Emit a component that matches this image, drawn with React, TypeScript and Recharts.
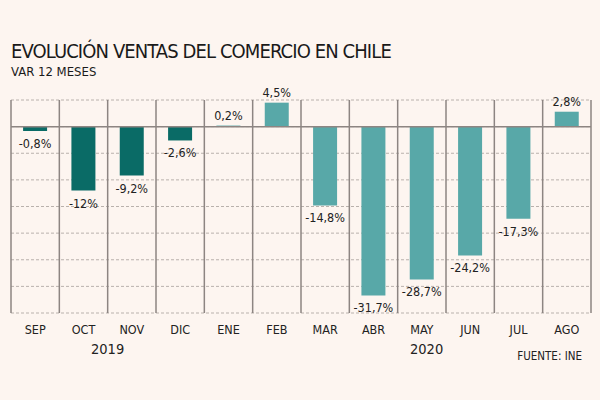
import React from "react";
import {
  Bar,
  BarChart,
  CartesianGrid,
  Cell,
  LabelList,
  ReferenceLine,
  XAxis,
  YAxis,
} from "recharts";

const months = ["SEP", "OCT", "NOV", "DIC", "ENE", "FEB", "MAR", "ABR", "MAY", "JUN", "JUL", "AGO"];
const values = [-0.8, -12, -9.2, -2.6, 0.2, 4.5, -14.8, -31.7, -28.7, -24.2, -17.3, 2.8];
const labels = ["-0,8%", "-12%", "-9,2%", "-2,6%", "0,2%", "4,5%", "-14,8%", "-31,7%", "-28,7%", "-24,2%", "-17,3%", "2,8%"];
const years = ["2019", "2019", "2019", "2019", "2020", "2020", "2020", "2020", "2020", "2020", "2020", "2020"];
const yTicks = [5, 0, -5, -10, -15, -20, -25, -30, -35];

const data = months.map((m, i) => ({ month: m, value: values[i], label: labels[i], year: years[i] }));

const DARK = "#0a6b66";
const LIGHT = "#58a8a8";
const BG = "#fdf5f0";
const FONT = "'DejaVu Sans Condensed', 'DejaVu Sans', sans-serif";

const ValueLabel = (props: any) => {
  const { x, y, width, height, index } = props;
  const top = Math.min(y, y + height);
  const bottom = Math.max(y, y + height);
  const v = values[index];
  const ty = v >= 0 ? top - 6 : bottom + 17;
  return (
    <text x={x + width / 2} y={ty} textAnchor="middle" fontSize={12.5} fill="#222" fontFamily={FONT}>
      {labels[index]}
    </text>
  );
};

const App = () => {
  return (
    <div style={{ position: "absolute", left: 0, top: 0, width: 600, height: 400, background: BG, fontFamily: FONT }}>
      <div style={{ position: "absolute", left: 11, top: 39, fontSize: 20, color: "#1a1a1a", letterSpacing: -0.9, whiteSpace: "nowrap" }}>
        EVOLUCIÓN VENTAS DEL COMERCIO EN CHILE
      </div>
      <div style={{ position: "absolute", left: 11, top: 64, fontSize: 13, color: "#1a1a1a", whiteSpace: "nowrap" }}>
        VAR 12 MESES
      </div>
      <BarChart
        width={600}
        height={400}
        data={data}
        margin={{ top: 100, right: 9, bottom: 57, left: 11 }}
        barCategoryGap="25%"
      >
        <CartesianGrid vertical={false} stroke="#b9b1ac" strokeDasharray="3 2" />
        <CartesianGrid
          horizontal={false}
          stroke="#8d8582"
          strokeWidth={1.5}
          verticalCoordinatesGenerator={({ offset }: any) =>
            months.map((_, i) => offset.left + (i * offset.width) / months.length).concat(offset.left + offset.width)
          }
        />
        <XAxis
          dataKey="month"
          axisLine={false}
          tickLine={false}
          interval={0}
          tick={{ fontSize: 12.5, fill: "#222", fontFamily: FONT }}
          dy={4}
        />
        <YAxis hide domain={[-35, 5]} ticks={yTicks} />
        <ReferenceLine y={0} stroke="#8d8582" strokeWidth={1.5} />
        <Bar dataKey="value" isAnimationActive={false}>
          {data.map((d, i) => (
            <Cell key={i} fill={d.year === "2019" ? DARK : LIGHT} />
          ))}
          <LabelList dataKey="label" content={ValueLabel} />
        </Bar>
      </BarChart>
      <div style={{ position: "absolute", left: 91, top: 341, fontSize: 14.5, color: "#222" }}>2019</div>
      <div style={{ position: "absolute", left: 410, top: 341, fontSize: 14.5, color: "#222" }}>2020</div>
      <div style={{ position: "absolute", right: 18, top: 349, fontSize: 11.5, color: "#222" }}>FUENTE: INE</div>
    </div>
  );
};

export default App;
